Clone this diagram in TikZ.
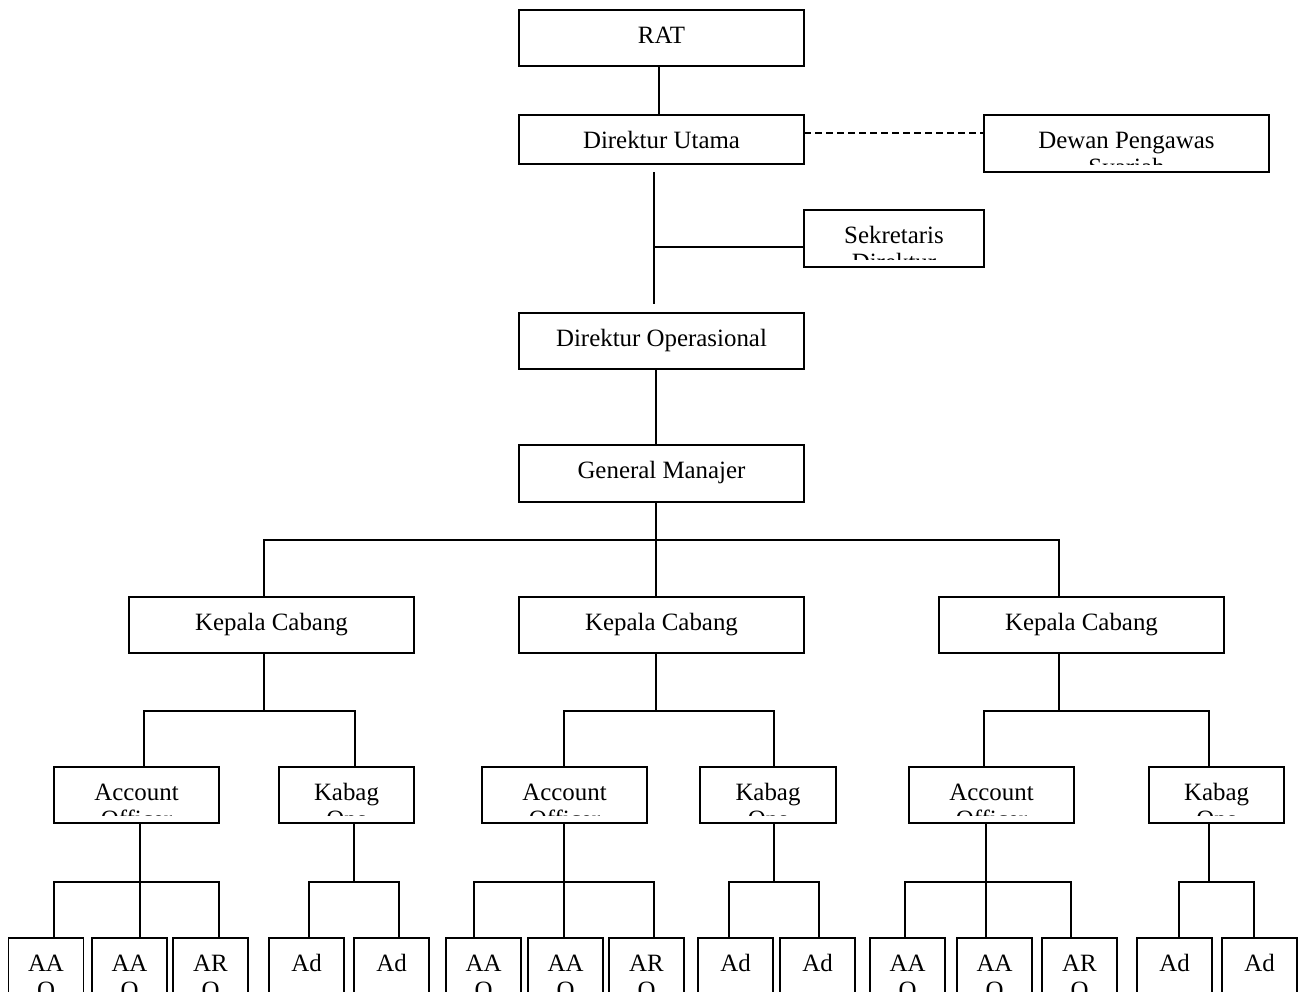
\documentclass[tikz,border=0pt]{standalone}
\usepackage{fontspec}
\setmainfont{Liberation Serif}

\tikzset{
  orgbox/.style 2 args={draw, line width=0.9pt, inner sep=0pt, outer sep=0pt,
    path picture={
      \clip (path picture bounding box.north west) rectangle ([yshift=4pt]path picture bounding box.south east);
      \node[anchor=base, inner sep=0pt] at ([yshift=-16.5pt]path picture bounding box.north) {#1};
      \node[anchor=base, inner sep=0pt] at ([yshift=-30pt]path picture bounding box.north) {#2};
    }},
  wide/.style={minimum width=142.5pt, minimum height=28pt},
  mid/.style={minimum width=82.5pt, minimum height=28pt},
  small/.style={minimum width=67.5pt, minimum height=28pt},
  leaf/.style={minimum width=37.5pt, minimum height=35pt},
  link/.style={line width=0.9pt},
}

\begin{document}
\begin{tikzpicture}[x=0.5pt, y=-0.5pt, font=\fontsize{12.45pt}{14.3pt}\selectfont]
  \useasboundingbox (0,0) rectangle (1306,991);

  % Top of the chart
  \node[orgbox={RAT}{}, wide] (rat) at (661.5,38) {};
  \node[orgbox={Direktur Utama}{}, wide, minimum height=24.5pt] (du) at (661.5,139.5) {};
  \node[orgbox={Dewan Pengawas}{Syariah}, wide, minimum height=28.5pt] (dps) at (1126.5,143.5) {};
  \node[orgbox={Sekretaris}{Direktur}, minimum width=90pt, minimum height=28.5pt] (sek) at (894,238.5) {};
  \node[orgbox={Direktur Operasional}{}, wide] (dop) at (661.5,341) {};
  \node[orgbox={General Manajer}{}, wide, minimum height=28.5pt] (gm) at (661.5,473.5) {};

  % Branches
  \foreach \g/\x in {1/271.5, 2/661.5, 3/1081.5} {
    \node[orgbox={Kepala Cabang}{}, wide] (kc\g) at (\x,625) {};
  }

  % Account officer and Kabag per branch
  \foreach \g/\x/\y/\w in {1/136.5/346.5/67.5, 2/564.5/768/68, 3/991.5/1216.5/67.5} {
    \node[orgbox={Account}{Officer}, mid] (acc\g) at (\x,795) {};
    \node[orgbox={Kabag}{Ops}, small, minimum width=\w pt] (kab\g) at (\y,795) {};
  }

  % Bottom row
  \foreach \g/\a/\b/\r/\c/\d in {1/46/129.5/210.5/306.5/391.5,
                                 2/483.5/565.5/646.5/735.5/817.5,
                                 3/907.5/994.5/1079.5/1174.5/1259.5} {
    \node[orgbox={AA}{O}, leaf] (aaa\g) at (\a,973) {};
    \node[orgbox={AA}{O}, leaf] (aab\g) at (\b,973) {};
    \node[orgbox={AR}{O}, leaf] (ar\g) at (\r,973) {};
    \node[orgbox={Ad}{}, leaf] (ada\g) at (\c,973) {};
    \node[orgbox={Ad}{}, leaf] (adb\g) at (\d,973) {};
  }

  % Connectors at the top
  \draw[link] (rat.south -| 659,0) -- (du.north -| 659,0);
  \draw[link, dash pattern=on 3.5pt off 2pt] (du.east |- 0,133) -- (dps.west |- 0,133);
  \coordinate (duo) at (654,172);
  \coordinate (doi) at (654,304);
  \draw[link] (duo) -- (doi);
  \draw[link] (654,247) -- (sek.west |- 0,247);
  \draw[link] (dop.south -| 656,0) -- (gm.north -| 656,0);
  \draw[link] (gm.south -| 656,0) -- (656,540);
  \draw[link] (kc1.north -| 264,0) -- (264,540) -- (1059,540) -- (kc3.north -| 1059,0);
  \draw[link] (656,540) -- (kc2.north -| 656,0);

  % Connectors inside each branch
  \foreach \g/\k/\a/\b/\p/\pl/\pr/\q/\ql/\qr in {1/264/144/355/140/54/219/354/309/399,
      2/656/564/774/564/474/654/774/729/819,
      3/1059/984/1209/986/905/1071/1209/1179/1254} {
    \draw[link] (kc\g.south -| \k,0) -- (\k,711);
    \draw[link] (acc\g.north -| \a,0) -- (\a,711) -- (\b,711) -- (kab\g.north -| \b,0);
    \draw[link] (acc\g.south -| \p,0) -- (\p,882);
    \draw[link] (aaa\g.north -| \pl,0) -- (\pl,882) -- (\pr,882) -- (ar\g.north -| \pr,0);
    \draw[link] (\p,882) -- (aab\g.north -| \p,0);
    \draw[link] (kab\g.south -| \q,0) -- (\q,882);
    \draw[link] (ada\g.north -| \ql,0) -- (\ql,882) -- (\qr,882) -- (adb\g.north -| \qr,0);
  }
\end{tikzpicture}
\end{document}
